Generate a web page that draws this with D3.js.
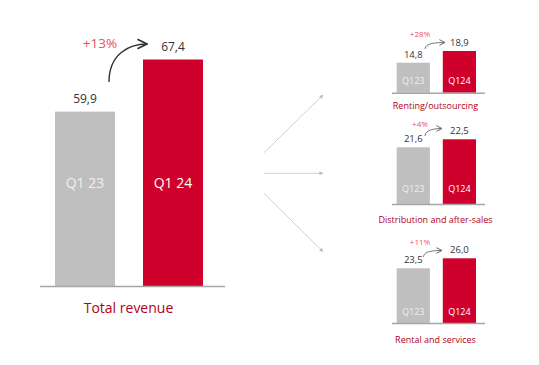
<!DOCTYPE html>
<html><head><meta charset="utf-8">
<script src="https://cdn.jsdelivr.net/npm/d3@7"></script>
<style>body{margin:0;background:#fff}svg{display:block}</style>
</head><body><svg id="c" width="539" height="365"></svg>
<script>
const periods = ["Q1 23", "Q1 24"];
const smallPeriods = ["Q123", "Q124"];
const totalValues = [59.9, 67.4];
const totalGrowth = "+13%";
const totalTitle = "Total revenue";
const segments = ["Renting/outsourcing", "Distribution and after-sales", "Rental and services"];
const segQ123 = [14.8, 21.6, 23.5];
const segQ124 = [18.9, 22.5, 26.0];
const segGrowth = ["+28%", "+4%", "+11%"];
// visual floors of the (schematic) value axes
const totalFloor = 34.8;
const segFloor = [4.3, 15.2, 9.8];

const fmt = v => d3.format(".1f")(v).replace(".", ",");
const GRAY = "#bfbfbf", RED = "#d0002d", PINK = "#e8506a", DARK = "#333", TITLE = "#b00020";
const svg = d3.select("#c");
const defs = svg.append("defs");
function marker(id, color, size) {
  defs.append("marker").attr("id", id).attr("viewBox", "0 0 10 10").attr("refX", 9).attr("refY", 5)
    .attr("markerWidth", size).attr("markerHeight", size).attr("orient", "auto")
    .append("path").attr("d", "M0,0 L10,5 L0,10 z").attr("fill", color);
}
function openMarker(id, color, size) {
  defs.append("marker").attr("id", id).attr("viewBox", "0 0 10 10").attr("refX", 9).attr("refY", 5)
    .attr("markerWidth", size).attr("markerHeight", size).attr("orient", "auto").attr("markerUnits","userSpaceOnUse")
    .append("path").attr("d", "M1,1 L9,5 L1,9").attr("fill", "none").attr("stroke", color).attr("stroke-width", 1.4);
}
openMarker("arrBig", DARK, 12);
openMarker("arrSmall", "#666", 7);
marker("arrGray", "#bdbdbd", 4);

const font = "'Open Sans', sans-serif";

function drawChart(cfg) {
  const g = svg.append("g");
  const x = d3.scaleBand().domain(cfg.cats).range([cfg.bx0, cfg.bx1]).paddingInner(cfg.pad).paddingOuter(0);
  const y = d3.scaleLinear().domain([cfg.floor, cfg.values[1]]).range([cfg.base, cfg.top]);
  const colors = [GRAY, RED];
  g.selectAll("rect").data(cfg.values).join("rect")
    .attr("x", (d, i) => x(cfg.cats[i])).attr("width", x.bandwidth())
    .attr("y", d => y(d)).attr("height", d => cfg.base - y(d))
    .attr("fill", (d, i) => colors[i]);
  g.append("line").attr("x1", cfg.x0).attr("x2", cfg.x1).attr("y1", cfg.base + 0.5).attr("y2", cfg.base + 0.5)
    .attr("stroke", "#a6a6a6").attr("stroke-width", 1.5);
  g.selectAll("text.val").data(cfg.values).join("text").attr("class", "val")
    .attr("x", (d, i) => x(cfg.cats[i]) + x.bandwidth() / 2).attr("y", d => y(d) - cfg.valOff)
    .attr("text-anchor", "middle").attr("font-family", font).attr("font-size", cfg.valSize)
    .attr("fill", DARK).text(d => fmt(d));
  g.selectAll("text.cat").data(cfg.cats).join("text").attr("class", "cat")
    .attr("x", d => x(d) + x.bandwidth() / 2).attr("y", cfg.catY)
    .attr("text-anchor", "middle").attr("font-family", font).attr("font-size", cfg.catSize)
    .attr("fill", (d, i) => i ? "#fff" : "#efefef").text(d => d);
  g.append("text").attr("x", (cfg.x0 + cfg.x1) / 2 + cfg.titleDx).attr("y", cfg.base + cfg.titleOff)
    .attr("text-anchor", "middle").attr("font-family", font).attr("font-size", cfg.titleSize)
    .attr("fill", TITLE).text(cfg.title);
  const a = cfg.arrow;
  g.append("path").attr("d", `M${a[0]},${a[1]} C${a[0]},${a[1] - a[4]} ${a[2] - a[5]},${a[3]} ${a[2]},${a[3]}`)
    .attr("fill", "none").attr("stroke", cfg.arrowColor).attr("stroke-width", cfg.arrowW)
    .attr("marker-end", `url(#${cfg.marker})`);
  g.append("text").attr("x", cfg.growthX).attr("y", cfg.growthY).attr("text-anchor", "middle")
    .attr("font-family", font).attr("font-size", cfg.growthSize).attr("fill", PINK).text(cfg.growth);
}

drawChart({
  cats: periods, values: totalValues, floor: totalFloor, x0: 40, x1: 225, bx0: 55, bx1: 203, pad: 0.318,
  base: 286, top: 59.5, valOff: 9, valSize: 12, catY: 188, catSize: 14, title: totalTitle,
  titleOff: 27, titleSize: 14, titleDx: -4,
  arrow: [109, 82, 147, 44, 28, 18], arrowColor: DARK, arrowW: 1.4, marker: "arrBig",
  growth: totalGrowth, growthX: 100, growthY: 48, growthSize: 13.5
});

const segLayout = [
  {base: 92.7, top: 51, catY: 84, arrow: [425, 49, 445, 42.5, 6, 8], gy: 37, title: 109},
  {base: 204, top: 139.3, catY: 191.5, arrow: [425, 136, 442, 128.5, 6, 8], gy: 127, title: 223},
  {base: 323, top: 258.3, catY: 315, arrow: [423.5, 257, 442, 250.5, 6, 8], gy: 245, title: 343}
];
segments.forEach((s, i) => {
  const L = segLayout[i];
  drawChart({
    cats: smallPeriods, values: [segQ123[i], segQ124[i]], floor: segFloor[i], x0: 392, x1: 485, bx0: 396.7, bx1: 476, pad: 0.28,
    base: L.base, top: L.top, valOff: 5, valSize: 9.5, catY: L.catY, catSize: 9, title: s,
    titleOff: L.title - L.base, titleSize: 9, titleDx: -3,
    arrow: L.arrow, arrowColor: "#666", arrowW: 0.9, marker: "arrSmall",
    growth: segGrowth[i], growthX: 420, growthY: L.gy, growthSize: 8
  });
});

const conn = [[264, 152.7, 323, 95], [264, 173.3, 323, 173.3], [264, 193.3, 323, 251.7]];
svg.append("g").selectAll("line").data(conn).join("line")
  .attr("x1", d => d[0]).attr("y1", d => d[1]).attr("x2", d => d[2]).attr("y2", d => d[3])
  .attr("stroke", "#d0d0d0").attr("stroke-width", 1).attr("marker-end", "url(#arrGray)");
</script></body></html>
